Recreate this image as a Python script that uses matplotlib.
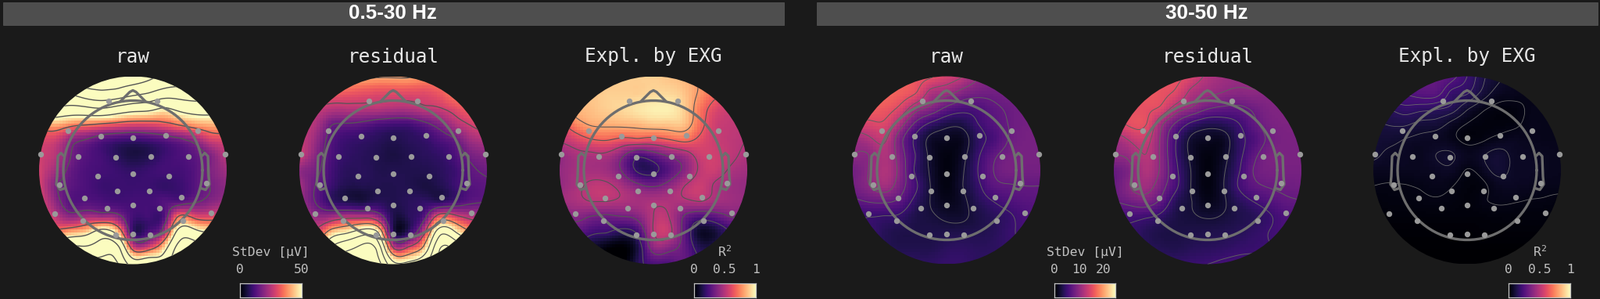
import numpy as np
import matplotlib
matplotlib.use("Agg")
import matplotlib.pyplot as plt
from matplotlib.patches import Circle, Rectangle

plt.rcParams['mathtext.default'] = 'regular'
plt.rcParams['font.family'] = ['DejaVu Sans Mono']

band_titles = ["0.5-30 Hz", "30-50 Hz"]
panel_titles = ["raw", "residual", "Expl. by EXG"]

sensor_x = [-30.7, 31, -83.3, -40.7, 0, 42.3, 83.3, -118, -70.3, -22.3, 22.7, 70.7, 118, -45, 0, 45.7,
            -94, 94, -61.7, -20, 21, 62.3, -100.3, -33.3, 0, 34, 100, -64.3, 64, -22.3, 0, 21.7]
sensor_y = [88.8, 88.8, 50.5, 43.8, 41.5, 44.2, 50.8, 20.8, 17.5, 16.8, 17.5, 17.8, 20.2, -7.8, -4.8, -7.5,
            -18.2, -16.8, -35.5, -26.2, -26.2, -34.5, -55.2, -48.8, -44.2, -48.2, -54.5, -64.2, -64.2, -82.2, -81.8, -82.2]

raw_low = [
 [112,112,112,110,108,108,108,104,97,92,88,86,85],
 [95,95,88,95,98,96,90,85,78,77,78,78,76],
 [70,66,63,65,68,63,58,56,50,55,58,58,56],
 [40,42,38,36,34,32,30,30,32,36,40,42,42],
 [30,28,20,17,13,11,10,11,13,16,20,28,30],
 [28,25,17,13,11,8,6,7,10,12,14,18,25],
 [28,22,15,12,11,10,9,10,11,11,13,18,22],
 [28,18,14,12,10,10,10,10,9,10,13,17,20],
 [30,20,13,13,12,11,11,11,13,13,16,19,22],
 [34,26,20,23,22,20,11,11,12,36,31,30,33],
 [50,38,42,46,58,46,10,12,22,58,55,50,48],
 [72,68,72,70,75,73,30,30,45,75,75,72,70],
 [95,90,90,90,90,85,60,65,60,85,85,85,85],
]
resid_low = [
 [50,48,46,42,41,40,40,40,38,37,35,34,33],
 [38,35,33,32,31,30,30,30,30,32,36,35,35],
 [27,27,25,25,25,25,24,24,26,27,30,33,33],
 [27,24,16,15,14,12,11,11,14,18,24,28,30],
 [27,21,13,10,9,8,7,8,9,12,15,22,24],
 [27,19,12,9,8,7,6,7,8,9,12,17,19],
 [20,17,11,8,8,7,7,7,7,8,10,14,16],
 [22,15,10,7,7,7,7,7,6,7,10,13,14],
 [22,15,9,7,6,8,7,8,9,8,11,14,15],
 [28,21,22,25,25,21,7,8,13,33,30,25,24],
 [42,30,44,50,58,53,8,9,26,60,52,40,36],
 [65,50,65,73,78,72,28,30,43,75,72,60,55],
 [80,80,80,80,80,80,55,55,62,80,80,80,80],
]
expl_low = [
 [.88,.88,.88,.88,.9,.9,.9,.88,.85,.78,.7,.62,.6],
 [.87,.87,.88,.9,.9,.9,.92,.92,.88,.78,.68,.6,.6],
 [.82,.85,.87,.9,.92,.95,.97,.97,.9,.72,.6,.55,.55],
 [.62,.75,.82,.83,.84,.85,.88,.88,.87,.7,.56,.53,.52],
 [.52,.58,.65,.67,.63,.64,.62,.66,.70,.62,.55,.52,.5],
 [.42,.47,.48,.48,.38,.24,.3,.38,.44,.55,.56,.52,.48],
 [.42,.46,.46,.44,.34,.18,.17,.27,.38,.52,.55,.48,.45],
 [.42,.47,.52,.52,.46,.38,.34,.4,.5,.55,.48,.44,.42],
 [.44,.47,.50,.50,.48,.46,.48,.48,.48,.5,.46,.44,.42],
 [.33,.38,.34,.32,.34,.38,.5,.5,.33,.25,.28,.35,.36],
 [.22,.28,.22,.2,.15,.22,.5,.53,.3,.08,.1,.2,.25],
 [.1,.12,.08,.02,.0,.12,.4,.38,.3,.15,.15,.2,.2],
 [.0,.0,.0,.0,.0,.15,.25,.25,.3,.2,.2,.2,.2],
]
raw_high = [
 [17,17,17,16.6,16,15.3,14,12.6,10.3,9.2,8.6,8.6,8.6],
 [17,17,17,16.4,15.3,11.8,11,9.3,8.4,8.2,8.4,8.6,8.6],
 [16.4,16.4,16,14.6,11.2,9.5,7.2,6,6,7.1,7.8,8.4,8.6],
 [14.5,14.5,14.7,11.5,7.2,4.7,3.3,3.2,5,6.4,7.6,8.4,8.6],
 [11,12,13,8.5,4.6,2,1.6,1.5,4.1,5.6,7.6,8.5,8.6],
 [10,10,12,8.9,5,2,.8,1.8,4.6,7,8.3,8.6,8.6],
 [8.5,10,12,9.3,4.7,2.2,.7,2.2,5,7.5,8.6,8.4,8.4],
 [8.5,9.8,11.3,8.7,5.5,2.4,.8,2.4,4.5,6.8,7.3,7.5,7.5],
 [7,7.6,7.8,6.9,4.3,2.4,1.3,2,3.7,5,6,6.6,6.8],
 [5,5,4.8,4.6,3.3,2.8,2.2,2.2,3.1,3.9,4.6,5.8,6.2],
 [5.4,5,3.8,3.3,3.2,3.2,3.2,3.3,3.4,3.8,4.7,5.4,5.8],
 [5,4.6,3.8,3.4,3.4,3.4,4,4.2,4,4.1,4.6,5,5.4],
 [5,4.6,4.2,4.2,4.2,4.2,4.6,4.6,4.2,4.2,4.6,5,5],
]
resid_high = [
 [15.6,15.6,15.6,15.6,15.6,14,12,11,10.5,10.5,10,9.6,9.4],
 [15.6,15.6,16,15.6,14.6,11.8,10.8,10,9.6,9.8,9.5,9.4,9.2],
 [15.4,15.5,15.4,14.7,11.5,9.8,7.9,7.2,7.1,8,9,9.2,9.2],
 [14.5,15.4,15.3,10.8,7.2,4.6,3.5,3.8,5,7.1,8.6,9,9],
 [11,12.8,13.5,9.7,5,2.1,1.6,1.6,4.2,6,8,8.8,8.8],
 [10,10.7,12.5,9.6,4.9,2,.8,1.8,4.3,7,8.8,8.8,8.8],
 [7.8,9.3,12,9.6,5.4,2.3,.7,2.2,4.8,7.7,8.6,8.6,8.6],
 [7.8,9.9,11,8.6,5.4,2.3,.8,2.4,5.2,7,7.7,8,8.2],
 [7.4,8.2,8.8,7,3.7,2.5,1.2,2.2,3.8,5.1,6.2,7.1,7.4],
 [5.3,5.5,5.2,4.4,3.1,2.7,2.4,2.7,3.3,3.8,4.8,6,6.5],
 [5,4.8,3.8,3.2,3.1,3.2,3.3,3.5,3.8,4.4,5.1,5.8,6.2],
 [5,4.6,4,3.6,3.4,3.8,4,4.2,4.6,4.8,5,5.5,6],
 [5,5,4.6,4.6,4.6,4.8,5,5.4,5.6,5.6,5.8,6,6],
]
expl_high = [
 [.3,.3,.3,.3,.3,.26,.2,.13,.09,.06,.05,.05,.05],
 [.28,.27,.25,.27,.27,.19,.17,.11,.065,.055,.045,.05,.05],
 [.2,.17,.19,.18,.17,.15,.09,.05,.03,.03,.045,.05,.05],
 [.12,.125,.13,.11,.105,.07,.04,.028,.025,.03,.05,.05,.05],
 [.1,.095,.08,.07,.065,.05,.027,.033,.05,.06,.055,.05,.05],
 [.09,.07,.065,.06,.08,.085,.06,.075,.095,.07,.065,.06,.055],
 [.06,.06,.06,.06,.065,.07,.037,.06,.095,.07,.07,.06,.055],
 [.04,.036,.038,.043,.05,.042,.025,.03,.06,.065,.06,.05,.05],
 [.025,.03,.03,.033,.036,.03,.022,.037,.044,.042,.037,.036,.03],
 [.015,.02,.02,.02,.02,.02,.02,.02,.025,.025,.025,.025,.025],
 [.01,.01,.01,.01,.01,.01,.01,.015,.015,.015,.015,.015,.015],
 [.005,.005,.005,.005,.005,.005,.005,.005,.005,.005,.005,.005,.005],
 [0,0,0,0,0,0,0,0,0,0,0,0,0],
]

levels_low_raw = [16.7, 33.3, 50, 66.7, 83.3, 100]
levels_low_res = [15, 27, 39, 51, 63, 75]
levels_expl_low = [.2, .35, .5, .65, .8]
levels_high = [2.5, 5, 7.5, 10, 12.5, 15]
levels_expl_high = [.04, .08, .12, .16, .20, .24]

W, H = 2047, 382
BG = '#1a1a1a'
fig = plt.figure(figsize=(W/100, H/100), dpi=100, facecolor=BG)

def px_axes(x0, y0, x1, y1):
    return fig.add_axes([x0/W, 1-y1/H, (x1-x0)/W, (y1-y0)/H])

full = fig.add_axes([0, 0, 1, 1]); full.set_xlim(0, W); full.set_ylim(H, 0); full.axis('off')
for (x0, x1), t, cx in zip([(3.5, 1003), (1044.5, 2044)], band_titles, [502, 1544]):
    full.add_patch(Rectangle((x0, 2.7), x1-x0, 29, fc='#4e4e4e', ec='#5a5a5a', lw=0.5))
    full.text(cx, 17, t, ha='center', va='center', color='white', fontsize=18.7, fontweight='bold',
              family=['Liberation Sans'])

th = np.linspace(0, 2*np.pi, 181)
head_r = 89
nose_x = [-16, -4, 0, 4, 16]
nose_y = [88, 100, 102, 100, 88]
ear_x = [88, 92, 96, 97, 98, 93, 87]
ear_y = [18, 22, 18, -8, -18, -25, -23]
GRAY = '#6e6e6e'

gx = np.linspace(-120, 120, 13)
GX, GY = np.meshgrid(gx, gx[::-1])
nodes = np.column_stack([GX.ravel(), GY.ravel()]) / 120.0

def kernel(a, b):
    r2 = ((a[:, None, :] - b[None, :, :])**2).sum(-1)
    return 0.5 * r2 * np.log(r2 + 1e-12)

def poly(a):
    return np.column_stack([np.ones(len(a)), a])

n = len(nodes)
K = np.zeros((n+3, n+3))
K[:n, :n] = kernel(nodes, nodes)
K[:n, n:] = poly(nodes)
K[n:, :n] = poly(nodes).T

def evaluate(z, X, Y):
    w = np.linalg.solve(K, np.r_[z, 0, 0, 0])
    q = np.column_stack([X.ravel(), Y.ravel()]) / 120.0
    return (kernel(q, nodes) @ w[:n] + poly(q) @ w[n:]).reshape(X.shape)

def topo(cx, data, vmax, levels, title, lw, lc):
    ax = px_axes(cx-125, 217.5-125, cx+125, 217.5+125)
    ax.axis('off'); ax.patch.set_alpha(0)
    z = np.array(data, float).ravel()
    xs = np.linspace(-120, 120, 64)
    X, Y = np.meshgrid(xs, xs)
    Z = evaluate(z, X, Y)
    clip = Circle((0, 0), 120, transform=ax.transData)
    im = ax.imshow(Z, origin='lower', extent=(-120, 120, -120, 120), cmap='magma', vmin=0, vmax=vmax,
                   interpolation='nearest', aspect='equal')
    im.set_clip_path(clip)
    xf = np.linspace(-120, 120, 160)
    Xf, Yf = np.meshgrid(xf, xf)
    cs = ax.contour(Xf, Yf, evaluate(z, Xf, Yf), levels=levels, colors=lc, linewidths=lw, linestyles='solid')
    cs.set_clip_path(clip)
    ax.set_xlim(-125, 125); ax.set_ylim(-125, 125)
    kw = dict(color=GRAY, lw=2.4, solid_joinstyle='round', solid_capstyle='round')
    ax.plot(head_r*np.cos(th), head_r*np.sin(th), **kw)
    ax.plot(nose_x, nose_y, **kw)
    ax.plot(ear_x, ear_y, **kw)
    ax.plot(-np.array(ear_x), ear_y, **kw)
    ax.scatter(sensor_x, sensor_y, s=28, c='#9a9a9a', linewidths=0, zorder=5)
    full.text(cx, 72.5, title, ha='center', va='center', color='#e6e6e6', fontsize=17.6)

panels = [
    (170, raw_low, 50, levels_low_raw, panel_titles[0], 1.0, '#555555'),
    (503, resid_low, 50, levels_low_res, panel_titles[1], 0.9, '#555555'),
    (836, expl_low, 1, levels_expl_low, panel_titles[2], 0.8, '#555555'),
    (1211, raw_high, 24.8, levels_high, panel_titles[0], 0.7, '#606060'),
    (1545, resid_high, 24.8, levels_high, panel_titles[1], 0.7, '#606060'),
    (1877, expl_high, 1, levels_expl_high, panel_titles[2], 0.6, '#6a6a6a'),
]
for p in panels:
    topo(*p)

bars = [
    (307, 385.7, 50, [0, 50], ['0', '50'], 'StDev [µV]'),
    (888, 966.6, 1, [0, .5, 1], ['0', '0.5', '1'], 'R$^2$'),
    (1349.3, 1426.7, 24.8, [0, 10, 20], ['0', '10', '20'], 'StDev [µV]'),
    (1930.3, 2008.7, 1, [0, .5, 1], ['0', '0.5', '1'], 'R$^2$'),
]
for x0, x1, vmax, ticks, labels, lab in bars:
    ax = px_axes(x0, 362, x1, 379.5)
    ax.imshow(np.linspace(0, 1, 256)[None, :], cmap='magma', aspect='auto', extent=(0, vmax, 0, 1))
    ax.set_xlim(0, vmax); ax.set_yticks([])
    ax.xaxis.tick_top()
    ax.set_xticks(ticks, labels)
    ax.tick_params(axis='x', length=0, pad=7.5, labelsize=11.8, labelcolor='#c0c0c0')
    for s in ax.spines.values():
        s.set_color('#c4c4c4'); s.set_linewidth(0.9)
    full.text((x0+x1)/2, 322, lab, ha='center', va='center', color='#c0c0c0', fontsize=11.8)

fig.savefig('out.png', dpi=100, facecolor=BG)
